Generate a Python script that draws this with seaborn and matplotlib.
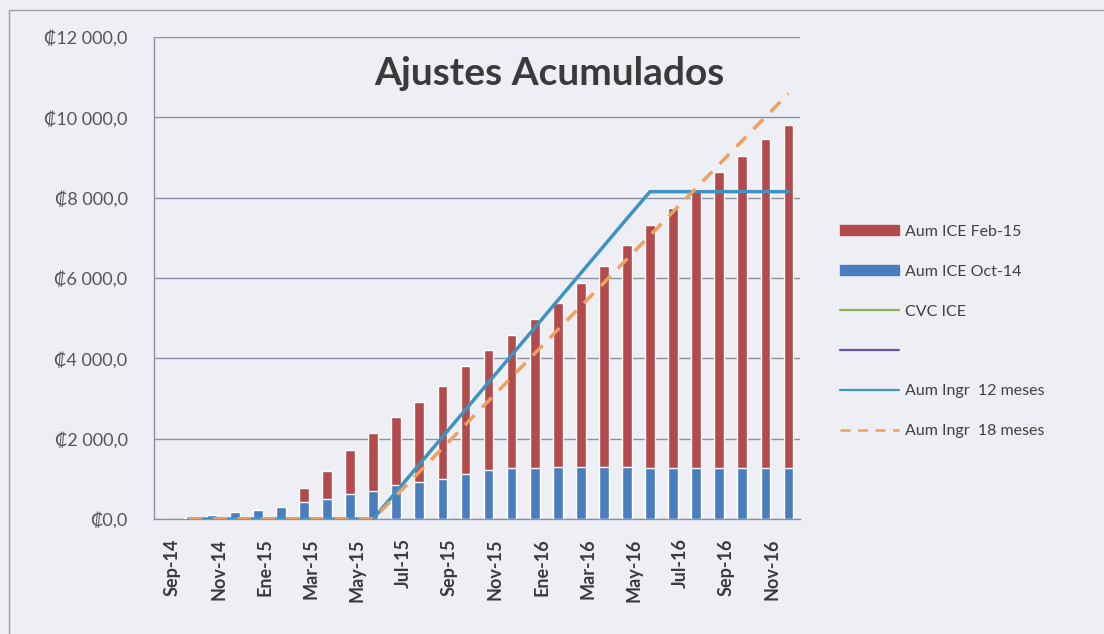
import numpy as np
import pandas as pd
import matplotlib
matplotlib.use("Agg")
import matplotlib.pyplot as plt
import seaborn as sns
from matplotlib.lines import Line2D
from matplotlib.patches import Patch, Rectangle
from matplotlib.ticker import FuncFormatter

# Data
months = ['Sep-14', 'Oct-14', 'Nov-14', 'Dic-14', 'Ene-15', 'Feb-15', 'Mar-15',
          'Abr-15', 'May-15', 'Jun-15', 'Jul-15', 'Ago-15', 'Sep-15', 'Oct-15',
          'Nov-15', 'Dic-15', 'Ene-16', 'Feb-16', 'Mar-16', 'Abr-16', 'May-16',
          'Jun-16', 'Jul-16', 'Ago-16', 'Sep-16', 'Oct-16', 'Nov-16', 'Dic-16']
tick_labels = ['Sep-14', 'Nov-14', 'Ene-15', 'Mar-15', 'May-15', 'Jul-15', 'Sep-15',
               'Nov-15', 'Ene-16', 'Mar-16', 'May-16', 'Jul-16', 'Sep-16', 'Nov-16']

aum_oct14 = [0, 20, 110, 180, 230, 305, 430, 500, 620, 705, 850, 930, 990, 1120,
             1210, 1280, 1280, 1285, 1285, 1285, 1285, 1280, 1280, 1280, 1280, 1280,
             1280, 1280]
aum_feb15 = [0, 0, 0, 0, 0, 0, 340, 700, 1100, 1425, 1700, 1990, 2330, 2680,
             3010, 3290, 3710, 4105, 4595, 5025, 5525, 6040, 6460, 6940, 7360, 7770,
             8170, 8540]
ingr_12 = [np.nan, 0, 0, 0, 0, 0, 0, 0, 0, 0, 680, 1360, 2040, 2720, 3400, 4080,
           4760, 5440, 6120, 6800, 7480, 8150, 8150, 8150, 8150, 8150, 8150, 8150]
ingr_18 = [np.nan, 0, 0, 0, 0, 0, 0, 0, 0, 0, 585, 1170, 1760, 2350, 2940, 3530,
           4120, 4710, 5300, 5880, 6470, 7060, 7650, 8240, 8830, 9420, 10010, 10590]

df = pd.DataFrame({'mes': months, 'oct14': aum_oct14, 'feb15': aum_feb15,
                   'ingr12': ingr_12, 'ingr18': ingr_18})
df['total'] = df['oct14'] + df['feb15']
df['pos'] = np.arange(len(df))

bg = '#eeeff5'
red = '#b34a4c'
blue = '#4a7dbd'
teal = '#3f93c0'
orange = '#eda062'

sns.set_style("white")
plt.rcParams['font.family'] = ['Lato', 'DejaVu Sans']

fig = plt.figure(figsize=(11.04, 6.34), dpi=100, facecolor=bg)
ax = fig.add_axes([0.1395, 0.1814, 0.7246 - 0.1395, 0.9416 - 0.1814])
ax.set_facecolor(bg)

# stacked bars: total in red, then the Oct-14 part in blue on top
sns.barplot(data=df, x='mes', y='total', color=red, saturation=1, width=0.42, ax=ax, zorder=2)
sns.barplot(data=df, x='mes', y='oct14', color=blue, saturation=1, width=0.42, ax=ax, zorder=3)

sns.lineplot(data=df, x='pos', y='ingr12', color=teal, lw=2.5, ax=ax, zorder=4)
sns.lineplot(data=df, x='pos', y='ingr18', color=orange, lw=2.5, ax=ax, zorder=5,
             linestyle=(0, (4, 3)))

ax.set_xlim(-0.5, len(months) - 0.5)
ax.set_ylim(0, 12000)
ax.set_yticks(np.arange(0, 12001, 2000))
ax.yaxis.set_major_formatter(FuncFormatter(
    lambda v, p: '₡' + f'{v:,.1f}'.replace(',', ' ').replace('.', ',')))
ax.grid(axis='y', color='#8c90a0', lw=1)
ax.set_axisbelow(True)

ax.set_xticks(np.arange(0, len(months), 2) + 0.3)
ax.set_xticklabels(tick_labels, rotation=90, fontweight='bold', fontsize=13, color='#3a3a3a')
ax.set_xticks(np.arange(-0.5, len(months), 2), minor=True)
ax.tick_params(axis='x', which='major', length=0, pad=14)
ax.tick_params(axis='x', which='minor', length=6, color='#8c90a0', direction='out')
ax.tick_params(axis='y', length=5, color='#8c90a0', direction='out', labelsize=13,
               labelcolor='#555555', pad=14)
ax.set_xlabel('')
ax.set_ylabel('')

for s in ['top', 'right']:
    ax.spines[s].set_visible(False)
for s in ['left', 'bottom']:
    ax.spines[s].set_color('#8c90a0')
    ax.spines[s].set_linewidth(1)

fig.text(0.498, 0.884, 'Ajustes Acumulados', ha='center', va='center',
         fontsize=28, fontweight='bold', color='#3a3a3a')

handles = [Patch(color=red), Patch(color=blue),
           Line2D([], [], color='#8db357', lw=1.6),
           Line2D([], [], color='#6a52a0', lw=1.6),
           Line2D([], [], color=teal, lw=1.6),
           Line2D([], [], color=orange, lw=1.8, linestyle=(0, (4, 3)))]
labels = ['Aum ICE Feb-15', 'Aum ICE Oct-14', 'CVC ICE', '',
          'Aum Ingr  12 meses', 'Aum Ingr  18 meses']
leg = fig.legend(handles, labels, loc='upper left', bbox_to_anchor=(0.748, 0.668),
                 frameon=False, fontsize=11.5, handlelength=3.7, handleheight=0.55,
                 labelspacing=1.62, handletextpad=0.35)
for t in leg.get_texts():
    t.set_color('#404040')

# outer chart border
fig.add_artist(Rectangle((0.008, -0.1), 1.2, 1.084, transform=fig.transFigure,
                         fill=False, edgecolor='#9aa0aa', lw=1))

fig.savefig('out.png', dpi=100, facecolor=bg)
